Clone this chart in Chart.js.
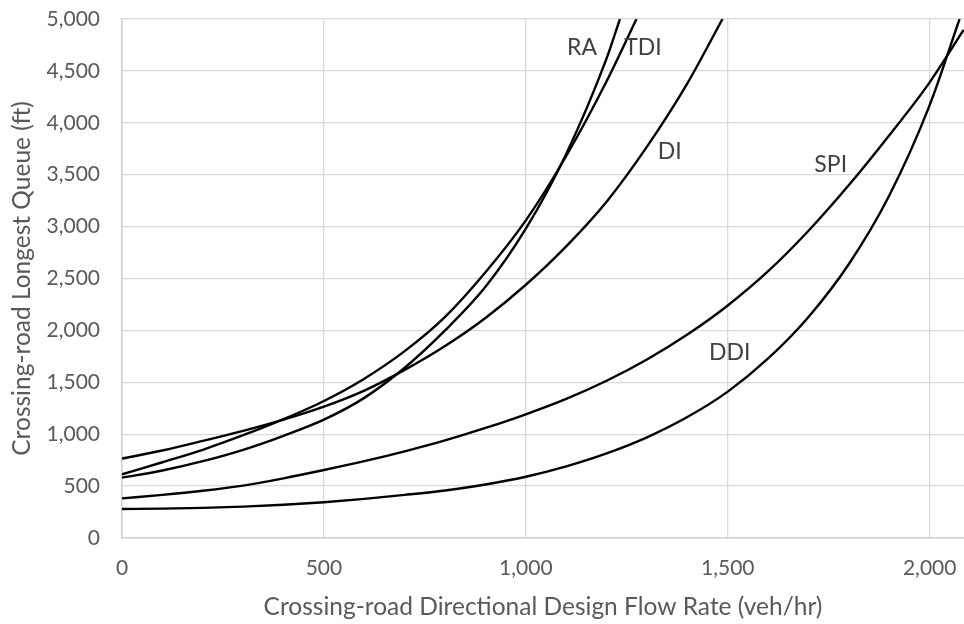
<!DOCTYPE html>
<html>
<head>
<meta charset="utf-8">
<script src="https://cdn.jsdelivr.net/npm/chart.js@4.4.1/dist/chart.umd.min.js"></script>
<style>
  body { margin: 0; background: #fff; }
  #wrap { width: 964px; height: 624px; }
</style>
</head>
<body>
<div id="wrap"><canvas id="queue_chart" width="964" height="624"></canvas></div>
<script>
//Data (flow in veh/hr, queue in ft)
const raFlow = [0, 100, 200, 300, 400, 500, 600, 700, 800, 900, 1000, 1100, 1200, 1233];
const raQueue = [581, 650, 740, 850, 985, 1140, 1350, 1640, 2000, 2420, 2980, 3700, 4620, 5000];

const tdiFlow = [0, 100, 200, 300, 400, 500, 600, 700, 800, 900, 1000, 1100, 1200, 1274];
const tdiQueue = [613, 730, 850, 990, 1145, 1320, 1535, 1800, 2130, 2560, 3060, 3680, 4400, 5000];

const diFlow = [0, 100, 200, 300, 400, 500, 600, 700, 800, 900, 1000, 1100, 1200, 1300, 1400, 1487];
const diQueue = [765, 843, 935, 1032, 1140, 1265, 1420, 1620, 1850, 2120, 2440, 2810, 3240, 3770, 4380, 5000];

const spiFlow = [0, 100, 200, 300, 400, 500, 600, 700, 800, 900, 1000, 1100, 1200, 1300, 1400, 1500, 1600, 1700, 1800, 1900, 2000, 2084];
const spiQueue = [382, 415, 455, 505, 575, 655, 740, 835, 940, 1060, 1192, 1340, 1515, 1720, 1960, 2240, 2570, 2960, 3400, 3880, 4390, 4894];

const ddiFlow = [0, 100, 200, 300, 400, 500, 600, 700, 800, 900, 1000, 1100, 1200, 1300, 1400, 1500, 1600, 1700, 1800, 1900, 2000, 2074];
const ddiQueue = [280, 283, 290, 302, 320, 345, 377, 415, 458, 515, 590, 690, 815, 970, 1165, 1410, 1730, 2130, 2640, 3300, 4170, 5000];

//Axis ticks
const flowTicks = [0, 500, 1000, 1500, 2000];
const queueTicks = [0, 500, 1000, 1500, 2000, 2500, 3000, 3500, 4000, 4500, 5000];

//Curve labels placed in the plot
const labelText = ["RA", "TDI", "DI", "SPI", "DDI"];
const labelFlow = [1139, 1290, 1356, 1755, 1505];
const labelQueue = [4720, 4720, 3720, 3593, 1782];

const FONT = "Lato";

const toPoints = (xs, ys) => xs.map((x, i) => ({x: x, y: ys[i]}));
const curve = (label, xs, ys) => ({
  label: label,
  data: toPoints(xs, ys),
  borderColor: "#000000",
  borderWidth: 2.4,
  pointRadius: 0,
  fill: false,
  cubicInterpolationMode: "monotone"
});

const data1 = {
  datasets: [
    curve("RA", raFlow, raQueue),
    curve("TDI", tdiFlow, tdiQueue),
    curve("DI", diFlow, diQueue),
    curve("SPI", spiFlow, spiQueue),
    curve("DDI", ddiFlow, ddiQueue)
  ]
};

//plugin that writes the curve names
const curveLabels = {
  id: "curveLabels",
  afterDatasetsDraw(chart) {
    const {ctx, scales: {x, y}} = chart;
    ctx.save();
    ctx.font = "23px " + FONT;
    ctx.fillStyle = "#404040";
    ctx.textAlign = "center";
    ctx.textBaseline = "middle";
    labelText.forEach((t, i) => {
      ctx.fillText(t, x.getPixelForValue(labelFlow[i]), y.getPixelForValue(labelQueue[i]));
    });
    ctx.restore();
  }
};

const fmt = v => Number(v).toLocaleString("en-US");
const setTicks = vals => s => { s.ticks = vals.map(v => ({value: v})); };
//fixed axis sizes, no extra room for edge labels
const fitBox = (w, h) => s => {
  if (w) s.width = w;
  if (h) s.height = h;
  s.paddingLeft = 0; s.paddingRight = 0; s.paddingTop = 0; s.paddingBottom = 0;
};

const config1 = {
  type: "line",
  data: data1,
  options: {
    responsive: false,
    animation: false,
    layout: {padding: {top: 19, right: 0, bottom: 0, left: 0}},
    plugins: {legend: {display: false}, tooltip: {enabled: false}},
    scales: {
      x: {
        type: "linear",
        min: 0,
        max: 2085,
        afterFit: fitBox(0, 86),
        afterBuildTicks: setTicks(flowTicks),
        grid: {color: "#d9d9d9", lineWidth: 1.3, drawTicks: false},
        border: {color: "#cfcfcf", width: 1.5},
        ticks: {padding: 18, color: "#595959", font: {family: FONT, size: 21}, callback: fmt, maxRotation: 0, autoSkip: false},
        title: {display: true, text: "Crossing-road Directional Design Flow Rate (veh/hr)", color: "#595959",
                font: {family: FONT, size: 24.5}, padding: {top: 0, bottom: 2}}
      },
      y: {
        min: 0,
        max: 5000,
        afterFit: fitBox(122, 0),
        afterBuildTicks: setTicks(queueTicks),
        grid: {color: "#d9d9d9", lineWidth: 1.3, drawTicks: false},
        border: {color: "#cfcfcf", width: 1.5},
        ticks: {padding: 22, color: "#595959", font: {family: FONT, size: 21}, callback: fmt, autoSkip: false},
        title: {display: true, text: "Crossing-road Longest Queue (ft)", color: "#595959",
                font: {family: FONT, size: 24.5}, padding: {top: 7, bottom: 0}}
      }
    }
  },
  plugins: [curveLabels]
};

const queue_chart = new Chart(document.getElementById("queue_chart"), config1);
</script>
</body>
</html>
